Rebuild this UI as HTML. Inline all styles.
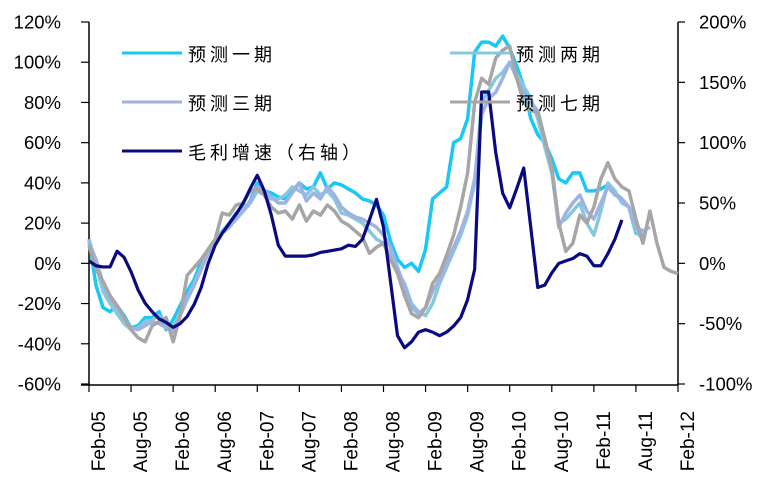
<!DOCTYPE html>
<html><head><meta charset="utf-8"><style>
body{margin:0;background:#fff;}
svg{display:block;font-family:"Liberation Sans","Noto Sans CJK SC",sans-serif;}
</style></head><body>
<svg id="chart" width="771" height="489" viewBox="0 0 771 489" xmlns="http://www.w3.org/2000/svg"></svg>
<script>
const xLabels=["Feb-05","Aug-05","Feb-06","Aug-06","Feb-07","Aug-07","Feb-08","Aug-08","Feb-09","Aug-09","Feb-10","Aug-10","Feb-11","Aug-11","Feb-12"];
const leftTicks=[120,100,80,60,40,20,0,-20,-40,-60];
const rightTicks=[200,150,100,50,0,-50,-100];
const fc1=[12,-11,-22,-24,-21,-26,-32,-31,-27,-27,-24,-33,-28,-21,-14,-8,1,7,12,16,20,25,26,31,40,36,35,33,32,36,40,37,38,45,37,40,39,37,35,32,31,29,24,11,2,-2,0,-4,7,32,35,38,60,62,72,105,110,110,108,113,107,98,88,72,64,60,52,42,40,45,45,36,36,37,39,35,32,28,15,14];
const fc2=[12,0,-14,-20,-25,-30,-33,-32,-29,-28,-26,-30,-32,-24,-17,-10,-2,6,12,16,20,24,28,30,36,34,32,32,34,38,36,34,38,34,36,32,25,24,22,20,16,12,10,4,-4,-10,-20,-24,-26,-20,-10,-2,6,14,24,40,80,86,92,95,100,94,88,82,72,58,45,20,22,26,30,20,14,26,40,36,30,28,16,12];
const fc3=[10,2,-10,-18,-22,-27,-32,-33,-31,-29,-30,-32,-34,-26,-18,-11,-3,5,11,15,18,22,26,30,38,36,33,30,30,35,40,31,35,32,38,34,28,25,23,22,20,18,14,8,-2,-12,-22,-25,-22,-14,-8,0,8,16,26,42,74,82,85,92,100,92,84,80,76,62,46,18,25,30,34,26,22,30,38,34,32,28,18,16,18];
const fc7=[9,-3,-9,-16,-21,-27,-33,-37,-39,-31,-29,-27,-39,-26,-6,-2,2,7,12,25,24,29,30,36,37,34,28,25,26,22,29,21,26,24,29,26,21,19,16,13,5,8,10,2,-5,-16,-25,-27,-22,-10,-5,4,14,28,45,80,92,89,102,106,108,92,80,76,75,62,48,20,6,10,24,20,28,42,50,42,38,36,22,10,26,10,-2,-4,-5];
const profit=[2,-2,-3,-3,10,5,-7,-22,-33,-40,-46,-49,-53,-50,-44,-34,-20,0,15,25,33,41,50,62,73,60,40,15,6,6,6,6,7,9,10,11,12,15,14,20,36,53,30,-15,-60,-70,-65,-57,-55,-57,-60,-57,-52,-45,-30,-5,142,142,92,58,46,62,79,30,-20,-18,-8,0,2,4,8,6,-2,-2,8,20,36];

const NS="http://www.w3.org/2000/svg";
const svg=document.getElementById('chart');
const X0=89,X1=678,Y0=22,Y1=384,NM=84;
const xs=i=>X0+(X1-X0)*i/NM;
const yL=v=>Y0+(120-v)*(Y1-Y0)/180;
const yR=v=>Y0+(200-v)*(Y1-Y0)/300;
function mk(tag,attrs){const e=document.createElementNS(NS,tag);for(const k in attrs)e.setAttribute(k,attrs[k]);svg.appendChild(e);return e;}

let e=mk('line',{x1:X0,y1:Y0,x2:X0,y2:Y1+1,stroke:'#000','stroke-width':1.5});


e=mk('line',{x1:X1,y1:Y0,x2:X1,y2:Y1+1,stroke:'#000','stroke-width':1.5});


e=mk('line',{x1:X0-8,y1:Y1+1,x2:X1,y2:Y1+1,stroke:'#000','stroke-width':1.5});



leftTicks.forEach(v=>{
  mk('line',{x1:X0-8,y1:yL(v),x2:X0,y2:yL(v),stroke:'#000','stroke-width':1.2});
  const t=mk('text',{x:61,y:yL(v)+6.5,'text-anchor':'end','font-size':18.5});
  t.textContent=v+'%';
  
  
});
rightTicks.forEach(v=>{
  mk('line',{x1:X1,y1:yR(v),x2:X1+7,y2:yR(v),stroke:'#000','stroke-width':1.2});
  const t=mk('text',{x:699,y:yR(v)+6.5,'text-anchor':'start','font-size':18.5});
  t.textContent=v+'%';
  
  
});
xLabels.forEach((l,i)=>{
  const x=xs(i*6);
  mk('line',{x1:x,y1:Y1+1,x2:x,y2:Y1+8,stroke:'#000','stroke-width':1.2});
  const t=mk('text',{x:0,y:0,'text-anchor':'end','font-size':19,transform:`translate(${x+16},411) rotate(-90)`});
  t.textContent=l;
  
  
});

function series(arr,yf,color,w,name){
  const p=mk('polyline',{points:arr.map((v,i)=>xs(i)+','+yf(v)).join(' '),fill:'none',stroke:color,'stroke-width':w,'stroke-linejoin':'round'});
  
  
}
series(fc1,yL,'#19C8F5',3.5,'series-forecast-1');
series(fc2,yL,'#86C8DE',3.5,'series-forecast-2');
series(fc3,yL,'#9FB2E2',3.5,'series-forecast-3');
series(fc7,yL,'#A6A6A6',3.5,'series-forecast-7');
series(profit,yR,'#0A0A80',3.2,'series-gross-profit-growth');

const legend=[[122,53,'#19C8F5','预测一期'],[450,53,'#86C8DE','预测两期'],[122,102,'#9FB2E2','预测三期'],[450,102,'#A6A6A6','预测七期'],[122,151,'#0A0A80','毛利增速（右轴）']];
legend.forEach(l=>{
  const ln=mk('line',{x1:l[0],y1:l[1],x2:l[0]+60,y2:l[1],stroke:l[2],'stroke-width':3});
  
  
  const t=mk('text',{x:l[0]+66,y:l[1]+8,'font-size':18,'letter-spacing':4,fill:'#000'});
  t.textContent=l[3];
  
  
});
</script>
</body></html>
